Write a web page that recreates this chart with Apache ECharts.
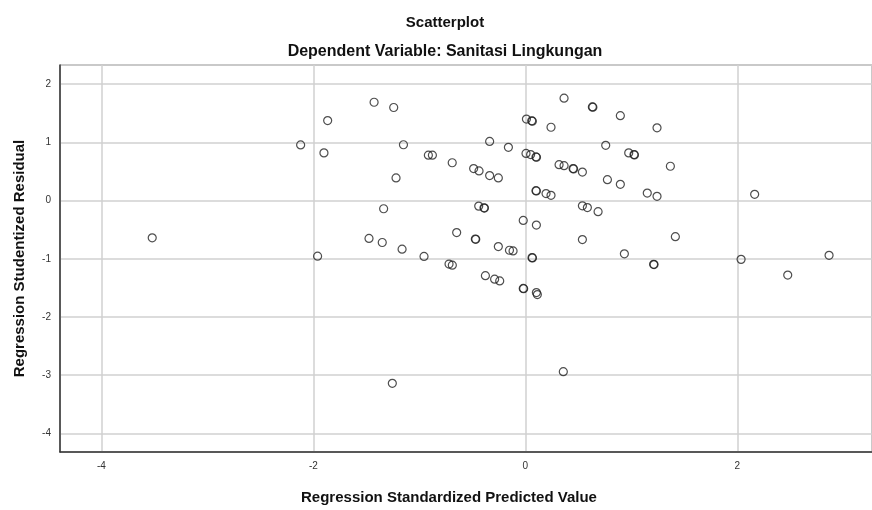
<!DOCTYPE html>
<html>
<head>
<meta charset="utf-8">
<script src="https://cdn.jsdelivr.net/npm/echarts@6/dist/echarts.min.js"></script>
<style>
  html, body { margin: 0; padding: 0; background: #fff; }
  #chart { width: 872px; height: 510px; }
</style>
</head>
<body>
<div id="chart"></div>
<script>
// Regression Standardized Predicted Value (x) and Studentized Residual (y)
var predicted = [
  -2.12, -1.865, -1.90, -3.52, -1.96, -1.427, -1.242, -1.15, -0.915, -0.877,
  -0.69, -1.22, -0.488, -0.437, -0.337, -0.255, -0.337, -0.16, 0.01, 0.06,
  0.066, 0.242, 0.365, 0.632, 0.637, 0.006, 0.05, 0.10, 0.105, 0.318,
  0.365, 0.45, 0.455, 0.538, 0.10, 0.104, 0.195, 0.242, -1.337, -0.44,
  -0.39, -0.386, -0.02, 0.104, 0.538, 0.585, 0.686, -1.475, -1.35, -1.163,
  -0.648, -0.472, -0.468, -0.255, -0.15, -0.116, 0.538, -0.956, -0.72, -0.689,
  0.063, 0.067, -0.377, -0.29, -0.242, -0.02, -0.016, 0.104, 0.113, -1.255,
  0.358, 0.896, 1.242, 0.758, 0.975, 1.025, 1.029, 1.368, 0.774, 0.896,
  1.15, 1.242, 2.163, 1.415, 0.934, 1.21, 1.214, 2.035, 2.865, 2.475
];
var residual = [
  0.956, 1.375, 0.82, -0.64, -0.955, 1.69, 1.60, 0.96, 0.78, 0.78,
  0.65, 0.39, 0.55, 0.51, 0.43, 0.39, 1.017, 0.915, 1.40, 1.37,
  1.365, 1.26, 1.76, 1.61, 1.605, 0.81, 0.79, 0.75, 0.745, 0.617,
  0.60, 0.55, 0.545, 0.49, 0.17, 0.165, 0.12, 0.09, -0.14, -0.095,
  -0.124, -0.128, -0.34, -0.42, -0.09, -0.12, -0.19, -0.65, -0.72, -0.835,
  -0.55, -0.66, -0.665, -0.79, -0.853, -0.865, -0.67, -0.96, -1.09, -1.11,
  -0.98, -0.985, -1.29, -1.35, -1.38, -1.51, -1.515, -1.58, -1.615, -3.14,
  -2.94, 1.46, 1.25, 0.95, 0.82, 0.79, 0.785, 0.59, 0.36, 0.28,
  0.13, 0.074, 0.108, -0.62, -0.915, -1.095, -1.1, -1.01, -0.94, -1.28
];

var points = predicted.map(function (x, i) { return [x, residual[i]]; });

var myChart = echarts.init(document.getElementById('chart'));
var font = 'Liberation Sans, Arial, sans-serif';

myChart.setOption({
  backgroundColor: '#fff',
  animation: false,
  title: [{
    text: 'Scatterplot',
    left: 440,
    top: 10,
    textAlign: 'center',
    textStyle: { fontFamily: font, fontSize: 15, fontWeight: 'bold', color: '#111' }
  }, {
    text: 'Dependent Variable: Sanitasi Lingkungan',
    left: 440,
    top: 39,
    textAlign: 'center',
    textStyle: { fontFamily: font, fontSize: 16, fontWeight: 'bold', color: '#111' }
  }],
  grid: {
    left: 60,
    right: 0,
    top: 65,
    bottom: 52,
    show: true,
    borderColor: '#666',
    borderWidth: 1
  },
  xAxis: {
    type: 'value',
    min: -4.39,
    max: 3.27,
    splitNumber: 4,
    name: 'Regression Standardized Predicted Value',
    nameLocation: 'middle',
    nameGap: 38,
    nameTextStyle: { fontFamily: font, fontSize: 15, fontWeight: 'bold', color: '#111', padding: [0, 34, 0, 0] },
    axisLine: { show: true, onZero: false, lineStyle: { color: '#333', width: 1.5 } },
    axisTick: { show: false },
    axisLabel: { fontFamily: font, fontSize: 10, color: '#333', margin: 9, showMinLabel: false, showMaxLabel: false },
    splitLine: { show: true, lineStyle: { color: '#d0d0d0', width: 1.5 } }
  },
  yAxis: {
    type: 'value',
    min: -4.32,
    max: 2.33,
    splitNumber: 6,
    name: 'Regression Studentized Residual',
    nameLocation: 'middle',
    nameGap: 33,
    nameTextStyle: { fontFamily: font, fontSize: 15, fontWeight: 'bold', color: '#111' },
    axisLine: { show: true, onZero: false, lineStyle: { color: '#333', width: 1.5 } },
    axisTick: { show: false },
    axisLabel: { fontFamily: font, fontSize: 10, color: '#333', margin: 9, showMinLabel: false, showMaxLabel: false },
    splitLine: { show: true, lineStyle: { color: '#d0d0d0', width: 1.5 } }
  },
  series: [{
    type: 'scatter',
    data: points,
    symbol: 'circle',
    symbolSize: 8,
    itemStyle: {
      color: 'rgba(255,255,255,0)',
      borderColor: '#222',
      borderWidth: 1.2,
      opacity: 0.8
    }
  }]
});
</script>
</body>
</html>
